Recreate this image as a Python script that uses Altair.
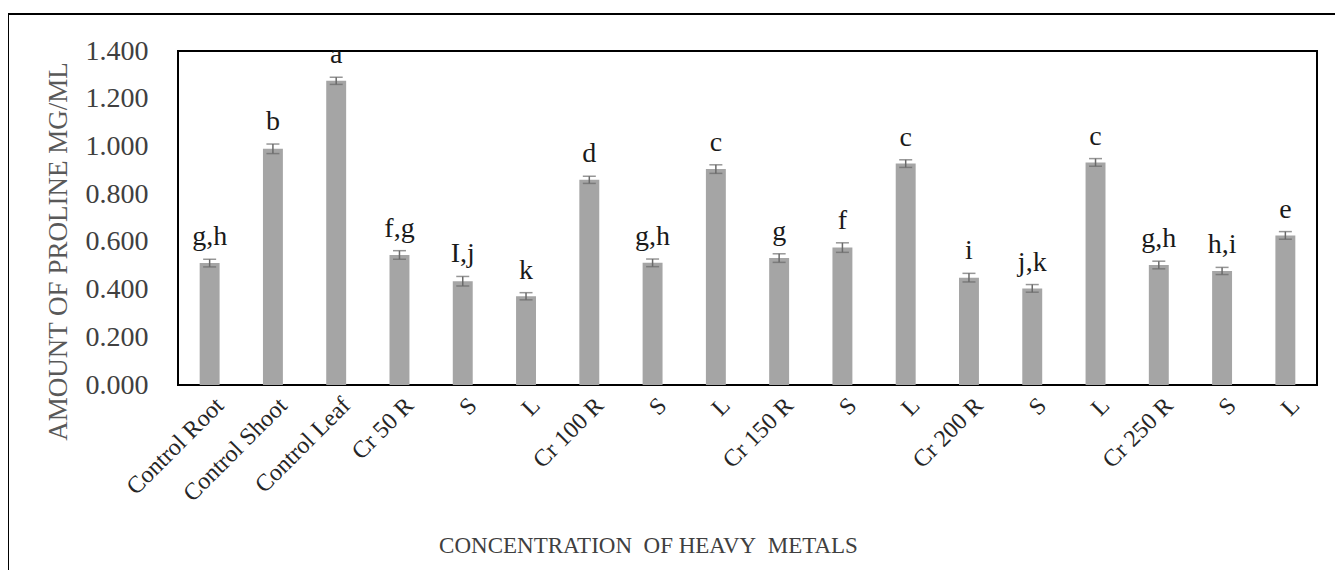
import json
import altair as alt
import pandas as pd

# ---- data ----
labels = ["Control Root", "Control Shoot", "Control Leaf",
          "Cr 50 R", "S", "L",
          "Cr 100 R", "S", "L",
          "Cr 150 R", "S", "L",
          "Cr 200 R", "S", "L",
          "Cr 250 R", "S", "L"]
values = [0.511, 0.990, 1.275,
          0.545, 0.435, 0.372,
          0.860, 0.512, 0.905,
          0.532, 0.576, 0.928,
          0.450, 0.405, 0.933,
          0.503, 0.478, 0.627]
errors = [0.016, 0.020, 0.015,
          0.018, 0.020, 0.015,
          0.015, 0.016, 0.018,
          0.018, 0.020, 0.016,
          0.018, 0.016, 0.016,
          0.016, 0.015, 0.016]
letters = ["g,h", "b", "a",
           "f,g", "I,j", "k",
           "d", "g,h", "c",
           "g", "f", "c",
           "i", "j,k", "c",
           "g,h", "h,i", "e"]
y_ticks = [0.0, 0.2, 0.4, 0.6, 0.8, 1.0, 1.2, 1.4]

df = pd.DataFrame({
    "idx": list(range(len(labels))),
    "value": values,
    "err": errors,
    "letter": letters,
})
df["lo"] = df["value"] - df["err"]
df["hi"] = df["value"] + df["err"]

FONT = "Liberation Serif"
W, H = 1139, 334

label_expr = json.dumps(labels) + "[datum.value]"

x_enc = alt.X(
    "idx:O",
    scale=alt.Scale(paddingInner=0.685, paddingOuter=0.3425),
    axis=alt.Axis(
        title="CONCENTRATION\u00a0 OF HEAVY\u00a0 METALS",
        labelExpr=label_expr,
        labelAngle=-45,
        labelAlign="right",
        labelBaseline="top",
        labelPadding=8,
        labelOffset=2,
        labelFont=FONT,
        labelFontSize=24,
        labelColor="#262626",
        ticks=False,
        domain=False,
        titleFont=FONT,
        titleFontSize=23,
        titleFontWeight="normal",
        titleColor="#404040",
        titleX=470,
        titleY=160,
        titleAlign="center",
        titleBaseline="middle",
    ),
)

y_scale = alt.Scale(domain=[0, 1.4], nice=False, zero=True)

bars = alt.Chart(df).mark_bar(color="#a5a5a5").encode(
    x=x_enc,
    y=alt.Y(
        "value:Q",
        scale=y_scale,
        axis=alt.Axis(
            title="AMOUNT OF PROLINE MG/ML",
            values=y_ticks,
            format=".3f",
            grid=False,
            ticks=False,
            domain=False,
            labelFont=FONT,
            labelFontSize=28,
            labelColor="#404040",
            labelPadding=30,
            titleFont=FONT,
            titleFontSize=27,
            titleFontWeight="normal",
            titleColor="#595959",
            titleX=-120,
            titleY=200,
            titleAlign="center",
            titleBaseline="middle",
        ),
    ),
)

err_rule = alt.Chart(df).mark_rule(color="#6a6a6a", strokeWidth=1.5).encode(
    x="idx:O",
    y=alt.Y("lo:Q", scale=y_scale),
    y2="hi:Q",
)
cap_hi = alt.Chart(df).mark_tick(color="#6a6a6a", size=13, thickness=1.5).encode(
    x="idx:O",
    y=alt.Y("hi:Q", scale=y_scale),
)
cap_lo = alt.Chart(df).mark_tick(color="#6a6a6a", size=13, thickness=1.5).encode(
    x="idx:O",
    y=alt.Y("lo:Q", scale=y_scale),
)

text = alt.Chart(df).mark_text(
    font=FONT, fontSize=28, color="#1a1a1a", baseline="alphabetic", dy=-14
).encode(
    x="idx:O",
    y=alt.Y("hi:Q", scale=y_scale),
    text="letter:N",
)

frame = alt.Chart(pd.DataFrame({"a": [0]})).mark_rect(
    fill=None, stroke="black", strokeWidth=2
).encode(
    x=alt.value(-170),
    y=alt.value(-37),
    x2=alt.value(1400),
    y2=alt.value(1000),
)

chart = alt.layer(bars, err_rule, cap_lo, cap_hi, text, frame).properties(
    width=W,
    height=H,
    autosize=alt.AutoSizeParams(type="none"),
    padding={"left": 170, "top": 43, "right": 18, "bottom": 185},
    background="white",
).configure_view(
    stroke="black", strokeWidth=2
)

chart.save("out.html", embed_options={"renderer": "svg", "actions": False})
